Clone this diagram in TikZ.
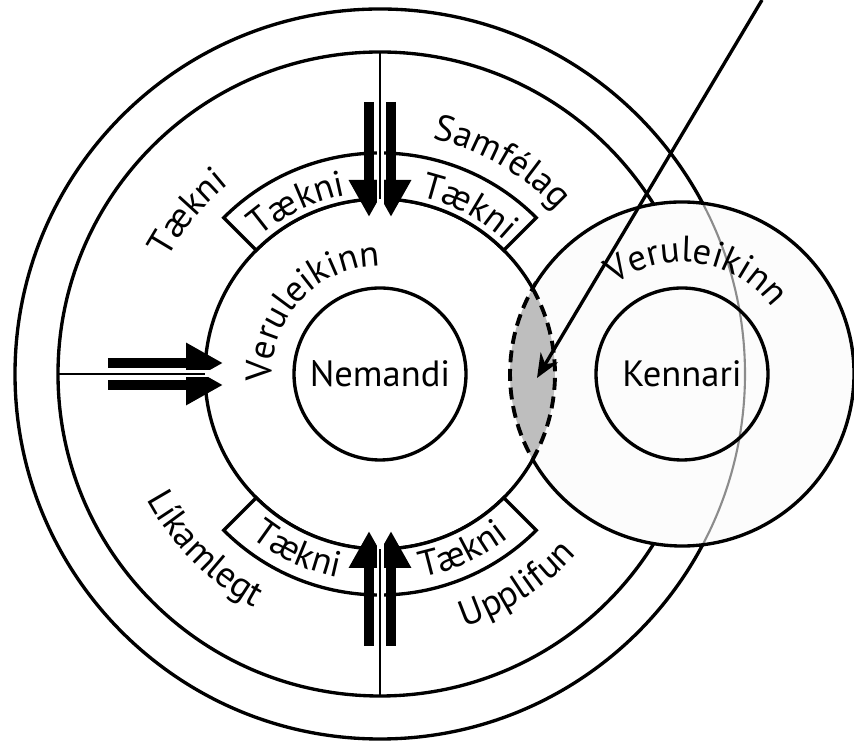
\documentclass[tikz,border=0pt]{standalone}
\usepackage{fontspec}
\setmainfont{PT Sans}
\usetikzlibrary{arrows.meta, decorations.text}
\definecolor{lensgrey}{HTML}{BEBEBE}
\definecolor{teachfill}{HTML}{FCFCFC}
\newcommand\lblfont{\fontsize{10.4}{12}\selectfont}

\begin{document}
\begin{tikzpicture}[x=0.1mm, y=0.1mm, line width=0.95pt, font=\lblfont,
    spoke/.style={line width=0.6pt},
    fat/.style={line width=2.85pt, -{Triangle[length=3.7mm, width=3.8mm]}},
    band/.style={draw, fill=white},
    lensline/.style={line width=1.1pt, dash pattern=on 3.4pt off 1.9pt},
    curved/.style={decorate, decoration={text along path, text align=center, text={|\lblfont|#1}}},
    hub/.style={circle, draw, minimum size=17.2mm, inner sep=0pt}]
  \useasboundingbox (-380,-368) rectangle (474,374);

  % rings round the student
  \draw (0,0) circle (365);
  \draw (0,0) circle (322);
  \draw (0,0) circle (175);

  % the two Taekni bands
  \foreach \a in {45, 225}
    \draw[band] (\a:175) arc[start angle=\a, end angle=\a+90, radius=175]
      -- (\a+90:221) arc[start angle=\a+90, end angle=\a, radius=221] -- cycle;

  % double arrows and spokes
  \foreach \a in {90, 180, 270} {
    \begin{scope}[rotate=\a]
      \draw[fat] (272,11) -- (157,11);
      \draw[fat] (272,-11) -- (157,-11);
      \draw[white, line width=0.7mm] (275,0) -- (157,0);
      \draw[spoke] (322,0) -- (175,0);
    \end{scope}
  }

  % the teacher's world
  \fill[teachfill] (302,0) circle (172);
  \begin{scope}
    \clip (302,0) circle (172);
    \draw[black!45, line width=0.6pt] (0,0) circle (365);
  \end{scope}
  \draw (302,0) ++(-150.2:172) arc[start angle=-150.2, end angle=150.2, radius=172];

  % shared part
  \fill[lensgrey] (29.2:175) arc[start angle=29.2, end angle=-29.2, radius=175]
    arc[start angle=209.8, end angle=150.2, radius=172] -- cycle;
  \draw[lensline] (29.2:175) arc[start angle=29.2, end angle=-29.2, radius=175]
    arc[start angle=209.8, end angle=150.2, radius=172] -- cycle;
  \coordinate (lens) at (157,-4);

  \node[hub] (nem) at (0,0) {Nemandi};
  \node[hub] (ken) at (302,0) {Kennari};

  % labels
  \path[curved=Tækni] (175:242) arc[start angle=175, end angle=105, radius=242];
  \path[curved=Samfélag] (95:241) arc[start angle=95, end angle=25, radius=241];
  \path[curved=Líkamlegt] (190:265) arc[start angle=190, end angle=260, radius=265];
  \path[curved=Upplifun] (268:267) arc[start angle=268, end angle=338, radius=267];
  \path[curved=Tækni] (146:182) arc[start angle=146, end angle=86, radius=182];
  \path[curved=Tækni] (92:182) arc[start angle=92, end angle=32, radius=182];
  \path[curved=Tækni] (215:208) arc[start angle=215, end angle=275, radius=208];
  \path[curved=Tækni] (265:208) arc[start angle=265, end angle=325, radius=208];
  \path[curved=Veruleikinn] (200:108) arc[start angle=200, end angle=74, radius=108];
  \path[curved=Veruleikinn] (302,0) ++(151.5:112) arc[start angle=151.5, end angle=11.5, radius=112];

  \coordinate (src) at (382,374);
  \draw[-{Stealth[length=2.4mm, width=2mm]}] (src) -- (lens);
\end{tikzpicture}
\end{document}
